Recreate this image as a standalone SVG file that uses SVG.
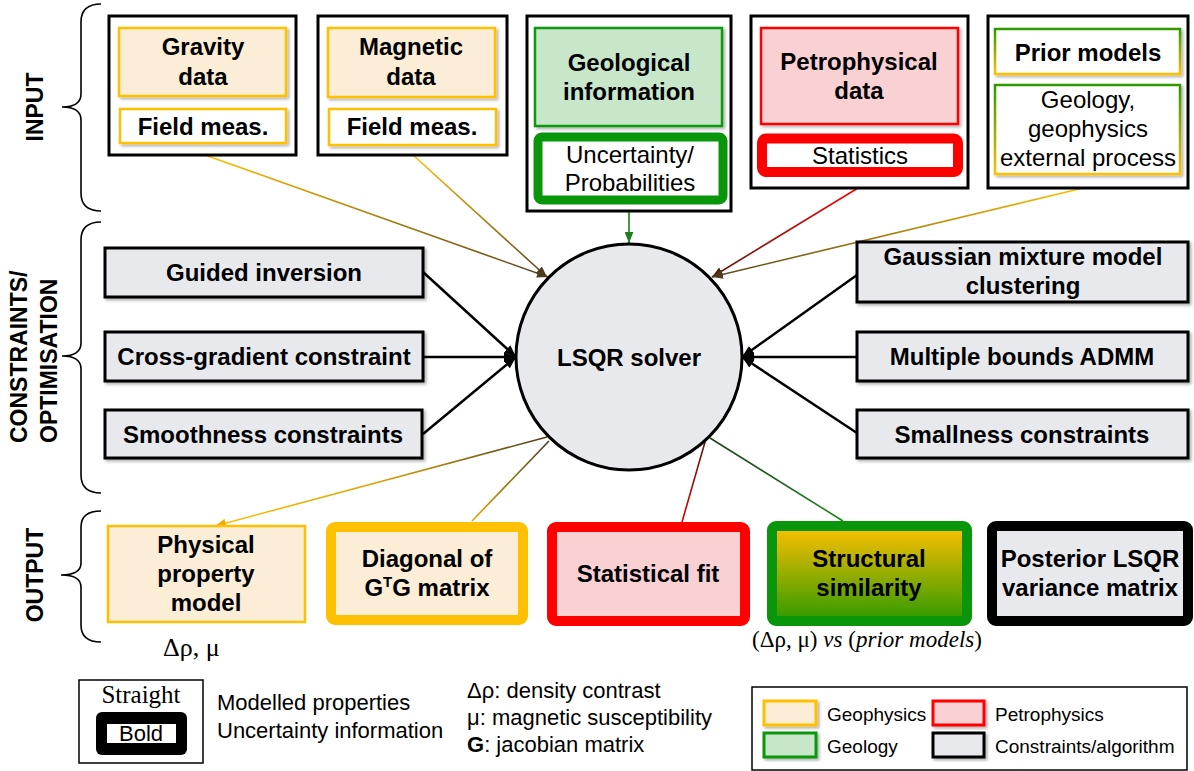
<svg xmlns="http://www.w3.org/2000/svg" width="1194" height="771" viewBox="0 0 1194 771">
<style>
text{font-family:"Liberation Sans",Arial,sans-serif;fill:#000}
.b{font-weight:bold;font-size:24px;text-anchor:middle}
.r{font-size:24px;text-anchor:middle}
.sec{font-weight:bold;font-size:23px}
.outer{fill:#fff;stroke:#000;stroke-width:3}
.geo{fill:#FBEDD6;stroke:#FFC000;stroke-width:2.5}
.wgeo{fill:#fff;stroke:#FFC000;stroke-width:2.5}
.con{fill:#E8E9ED;stroke:#000;stroke-width:3}
.brace{fill:none;stroke:#000;stroke-width:1.6}
.blk{stroke:#000;stroke-width:2.5;fill:none}
.thin{stroke-width:1.6;fill:none}
.leg{font-size:22px}
.lg2{font-size:19px}
.serif{font-family:"Liberation Serif","DejaVu Serif",serif}
</style>
<defs>
<filter id="sh" x="-10%" y="-10%" width="125%" height="130%"><feDropShadow dx="2" dy="2" stdDeviation="1.5" flood-color="#000" flood-opacity="0.3"/></filter>
<marker id="aDk" viewBox="0 0 10 8" refX="10" refY="4" markerWidth="11" markerHeight="9" markerUnits="userSpaceOnUse" orient="auto"><path d="M0,0L10,4L0,8z" fill="#4d3b1c"/></marker>
<marker id="aRd" viewBox="0 0 10 8" refX="10" refY="4" markerWidth="11" markerHeight="9" markerUnits="userSpaceOnUse" orient="auto"><path d="M0,0L10,4L0,8z" fill="#5a1a10"/></marker>
<marker id="aGr" viewBox="0 0 10 8" refX="10" refY="4" markerWidth="11" markerHeight="9" markerUnits="userSpaceOnUse" orient="auto"><path d="M0,0L10,4L0,8z" fill="#1b7d1b"/></marker>
<marker id="aOr" viewBox="0 0 10 8" refX="10" refY="4" markerWidth="11" markerHeight="9" markerUnits="userSpaceOnUse" orient="auto"><path d="M0,0L10,4L0,8z" fill="#E8AE00"/></marker>
<marker id="aBk" viewBox="0 0 10 8" refX="10" refY="4" markerWidth="12" markerHeight="10" markerUnits="userSpaceOnUse" orient="auto"><path d="M0,0L10,4L0,8z" fill="#000"/></marker>
<linearGradient id="gPrior" x1="0" y1="0" x2="0" y2="1"><stop offset="0" stop-color="#2E9A00"/><stop offset="1" stop-color="#FFC000"/></linearGradient>
<linearGradient id="gStruct" x1="0" y1="0" x2="0" y2="1"><stop offset="0" stop-color="#FFC000"/><stop offset="1" stop-color="#2F9A00"/></linearGradient>
<linearGradient id="l1" gradientUnits="userSpaceOnUse" x1="205" y1="155" x2="548" y2="277"><stop offset="0" stop-color="#FFC000"/><stop offset="1" stop-color="#5a4520"/></linearGradient>
<linearGradient id="l2" gradientUnits="userSpaceOnUse" x1="413" y1="155" x2="547" y2="277"><stop offset="0" stop-color="#FFC000"/><stop offset="1" stop-color="#5a4520"/></linearGradient>
<linearGradient id="l4" gradientUnits="userSpaceOnUse" x1="858" y1="188" x2="712" y2="277"><stop offset="0" stop-color="#FF0000"/><stop offset="1" stop-color="#5a1a10"/></linearGradient>
<linearGradient id="l5" gradientUnits="userSpaceOnUse" x1="1083" y1="188" x2="712" y2="277"><stop offset="0" stop-color="#FFC000"/><stop offset="1" stop-color="#5a4520"/></linearGradient>
<linearGradient id="l6" gradientUnits="userSpaceOnUse" x1="547" y1="437" x2="215" y2="526"><stop offset="0" stop-color="#4d3b1c"/><stop offset="0.5" stop-color="#D9A410"/><stop offset="1" stop-color="#FFC000"/></linearGradient>
<linearGradient id="l7" gradientUnits="userSpaceOnUse" x1="549" y1="441" x2="472" y2="521"><stop offset="0" stop-color="#4d3b1c"/><stop offset="1" stop-color="#E0A800"/></linearGradient>
<linearGradient id="l8" gradientUnits="userSpaceOnUse" x1="705" y1="442" x2="682" y2="522"><stop offset="0" stop-color="#5a1a10"/><stop offset="1" stop-color="#E00000"/></linearGradient>
<linearGradient id="l9" gradientUnits="userSpaceOnUse" x1="710" y1="438" x2="843" y2="521"><stop offset="0" stop-color="#1f3f1f"/><stop offset="1" stop-color="#1a8a1a"/></linearGradient>
</defs>

<!-- section labels and braces -->
<g id="sections">
<text class="sec" text-anchor="middle" transform="translate(43,107) rotate(-90)">INPUT</text>
<path class="brace" d="M101,4 Q81,4 81,22 L81,94 Q81,107 62,107 Q81,107 81,120 L81,193 Q81,211 101,211"/>
<text class="sec" transform="translate(27,443) rotate(-90)">CONSTRAINTS/</text>
<text class="sec" transform="translate(57,443) rotate(-90)">OPTIMISATION</text>
<path class="brace" d="M101,222 Q81,222 81,240 L81,343 Q81,356 62,356 Q81,356 81,369 L81,475 Q81,493 101,493"/>
<text class="sec" text-anchor="middle" transform="translate(43,575) rotate(-90)">OUTPUT</text>
<path class="brace" d="M101,511 Q81,511 81,527 L81,563 Q81,575 61,575 Q81,575 81,587 L81,625 Q81,642 101,642"/>
</g>

<!-- connectors -->
<g id="connectors">
<line x1="205" y1="155" x2="548" y2="277" stroke="url(#l1)" class="thin" marker-end="url(#aDk)"/>
<line x1="413" y1="155" x2="547" y2="277" stroke="url(#l2)" class="thin" marker-end="url(#aDk)"/>
<line x1="629" y1="211" x2="629" y2="243" stroke="#1b7d1b" class="thin" marker-end="url(#aGr)"/>
<line x1="858" y1="188" x2="712" y2="277" stroke="url(#l4)" class="thin" marker-end="url(#aRd)"/>
<line x1="1083" y1="188" x2="712" y2="277" stroke="url(#l5)" class="thin" marker-end="url(#aDk)"/>
<line x1="423" y1="272" x2="516" y2="357" class="blk" marker-end="url(#aBk)"/>
<line x1="423" y1="357" x2="516" y2="357" class="blk" marker-end="url(#aBk)"/>
<line x1="423" y1="434" x2="516" y2="357" class="blk" marker-end="url(#aBk)"/>
<line x1="857" y1="275" x2="742" y2="357" class="blk" marker-end="url(#aBk)"/>
<line x1="857" y1="357" x2="742" y2="357" class="blk" marker-end="url(#aBk)"/>
<line x1="857" y1="433" x2="742" y2="357" class="blk" marker-end="url(#aBk)"/>
<line x1="547" y1="437" x2="215" y2="526" stroke="url(#l6)" class="thin" marker-end="url(#aOr)"/>
<line x1="549" y1="441" x2="472" y2="521" stroke="url(#l7)" class="thin"/>
<line x1="705" y1="442" x2="682" y2="522" stroke="url(#l8)" class="thin"/>
<line x1="710" y1="438" x2="843" y2="521" stroke="url(#l9)" class="thin"/>
</g>

<!-- INPUT nodes -->
<g id="gravity">
<rect class="outer" x="109" y="16" width="187" height="139"/>
<rect class="geo" x="119" y="28" width="167" height="68" filter="url(#sh)"/>
<text class="b" x="203" y="55">Gravity</text>
<text class="b" x="203" y="85">data</text>
<rect class="wgeo" x="120" y="109" width="166" height="34" filter="url(#sh)"/>
<text class="b" x="203" y="135">Field meas.</text>
</g>
<g id="magnetic">
<rect class="outer" x="318" y="16" width="189" height="139"/>
<rect class="geo" x="328" y="28" width="167" height="69" filter="url(#sh)"/>
<text class="b" x="411" y="55">Magnetic</text>
<text class="b" x="411" y="85">data</text>
<rect class="wgeo" x="329" y="109" width="167" height="36" filter="url(#sh)"/>
<text class="b" x="412" y="135">Field meas.</text>
</g>
<g id="geological">
<rect class="outer" x="527" y="16" width="204" height="195"/>
<rect x="535" y="28" width="187" height="98" fill="#C8E6CA" stroke="#119911" stroke-width="2.5" filter="url(#sh)"/>
<text class="b" x="629" y="71">Geological</text>
<text class="b" x="629" y="100">information</text>
<rect x="538" y="137" width="185" height="63" rx="4" fill="#fff" stroke="#0A960A" stroke-width="9"/>
<text class="r" x="630" y="163">Uncertainty/</text>
<text class="r" x="630" y="191">Probabilities</text>
</g>
<g id="petrophysical">
<rect class="outer" x="751" y="16" width="217" height="172"/>
<rect x="761" y="28" width="197" height="96" fill="#F9D1D3" stroke="#FF0000" stroke-width="2.5" filter="url(#sh)"/>
<text class="b" x="859" y="70">Petrophysical</text>
<text class="b" x="859" y="99">data</text>
<rect x="762" y="138.5" width="196" height="33.5" rx="4" fill="#fff" stroke="#FF0000" stroke-width="10"/>
<text class="r" x="860" y="164">Statistics</text>
</g>
<g id="prior">
<rect class="outer" x="988" y="16" width="200" height="172"/>
<rect x="995" y="29" width="185" height="45" fill="#fff" stroke="url(#gPrior)" stroke-width="2.5" filter="url(#sh)"/>
<text class="b" x="1088" y="61">Prior models</text>
<rect x="995" y="85" width="185" height="89" fill="#fff" stroke="url(#gPrior)" stroke-width="2.5" filter="url(#sh)"/>
<text class="r" x="1088" y="108">Geology,</text>
<text class="r" x="1088" y="137">geophysics</text>
<text class="r" x="1088" y="166">external process</text>
</g>

<!-- solver -->
<g id="solver">
<circle cx="629" cy="357" r="113" fill="#E8E9ED" stroke="#000" stroke-width="3"/>
<text class="b" x="629" y="366">LSQR solver</text>
</g>

<!-- constraints -->
<g id="guided"><rect class="con" x="105" y="248" width="318" height="49" filter="url(#sh)"/><text class="b" x="264" y="281">Guided inversion</text></g>
<g id="crossgrad"><rect class="con" x="105" y="332" width="318" height="49" filter="url(#sh)"/><text class="b" x="264" y="365">Cross-gradient constraint</text></g>
<g id="smooth"><rect class="con" x="105" y="410" width="317" height="48" filter="url(#sh)"/><text class="b" x="263" y="443">Smoothness constraints</text></g>
<g id="gmm"><rect class="con" x="857" y="242" width="331" height="60" filter="url(#sh)"/><text class="b" x="1023" y="265">Gaussian mixture model</text><text class="b" x="1023" y="294">clustering</text></g>
<g id="admm"><rect class="con" x="857" y="332" width="331" height="49" filter="url(#sh)"/><text class="b" x="1022" y="365">Multiple bounds ADMM</text></g>
<g id="small"><rect class="con" x="857" y="410" width="331" height="48" filter="url(#sh)"/><text class="b" x="1022" y="443">Smallness constraints</text></g>

<!-- outputs -->
<g id="physical">
<rect class="geo" x="108" y="526" width="197" height="96"/>
<text class="b" x="206" y="553">Physical</text>
<text class="b" x="206" y="582">property</text>
<text class="b" x="206" y="611">model</text>
<text class="serif" x="163" y="656" font-size="26">Δρ, μ</text>
</g>
<g id="diagonal">
<rect x="331" y="527" width="192" height="93" rx="4" fill="#FBEDD6" stroke="#FFC000" stroke-width="10"/>
<text class="b" x="427" y="567">Diagonal of</text>
<text class="b" x="427" y="596">G<tspan font-size="15" dy="-9">T</tspan><tspan dy="9">G matrix</tspan></text>
</g>
<g id="statfit">
<rect x="552" y="527" width="193" height="94" rx="4" fill="#F9D1D3" stroke="#FF0000" stroke-width="10"/>
<text class="b" x="648" y="582">Statistical fit</text>
</g>
<g id="structural">
<rect x="772" y="526" width="195" height="95" rx="4" fill="url(#gStruct)" stroke="#0A960A" stroke-width="10"/>
<text class="b" x="869" y="567">Structural</text>
<text class="b" x="869" y="596">similarity</text>
<text class="serif" x="752" y="647" font-size="23" textLength="230" lengthAdjust="spacing">(Δρ, μ) <tspan font-style="italic">vs</tspan> (<tspan font-style="italic">prior models</tspan>)</text>
</g>
<g id="posterior">
<rect x="992" y="526" width="196" height="95" rx="4" fill="#E8E9ED" stroke="#000" stroke-width="10"/>
<text class="b" x="1090" y="567">Posterior LSQR</text>
<text class="b" x="1090" y="596">variance matrix</text>
</g>

<!-- legends -->
<g id="legend-lines">
<rect x="79" y="680" width="124" height="83" fill="#fff" stroke="#000" stroke-width="1.5"/>
<text class="serif" x="141" y="703" font-size="25" text-anchor="middle">Straight</text>
<rect x="96" y="712" width="91" height="43" rx="6" fill="#000"/>
<rect x="107" y="724" width="69" height="19" fill="#fff"/>
<text x="141" y="741" font-size="22" text-anchor="middle">Bold</text>
<text class="leg" x="217" y="710">Modelled properties</text>
<text class="leg" x="217" y="738">Uncertainty information</text>
</g>
<g id="legend-symbols">
<text class="leg" x="467" y="698">Δρ: density contrast</text>
<text class="leg" x="467" y="725">μ: magnetic susceptibility</text>
<text class="leg" x="467" y="752"><tspan font-weight="bold">G</tspan>: jacobian matrix</text>
</g>
<g id="legend-colors">
<rect x="752" y="687" width="435" height="83" fill="#fff" stroke="#000" stroke-width="1.5"/>
<rect x="764" y="701" width="52" height="24" fill="#FBEDD6" stroke="#FFC000" stroke-width="3" filter="url(#sh)"/>
<text class="lg2" x="827" y="721">Geophysics</text>
<rect x="764" y="733" width="52" height="24" fill="#C8E6CA" stroke="#0A960A" stroke-width="3" filter="url(#sh)"/>
<text class="lg2" x="827" y="753">Geology</text>
<rect x="933" y="701" width="51" height="24" fill="#F9D1D3" stroke="#FF0000" stroke-width="3" filter="url(#sh)"/>
<text class="lg2" x="995" y="721">Petrophysics</text>
<rect x="933" y="733" width="51" height="24" fill="#E8E9ED" stroke="#000" stroke-width="3" filter="url(#sh)"/>
<text class="lg2" x="995" y="753">Constraints/algorithm</text>
</g>
</svg>
